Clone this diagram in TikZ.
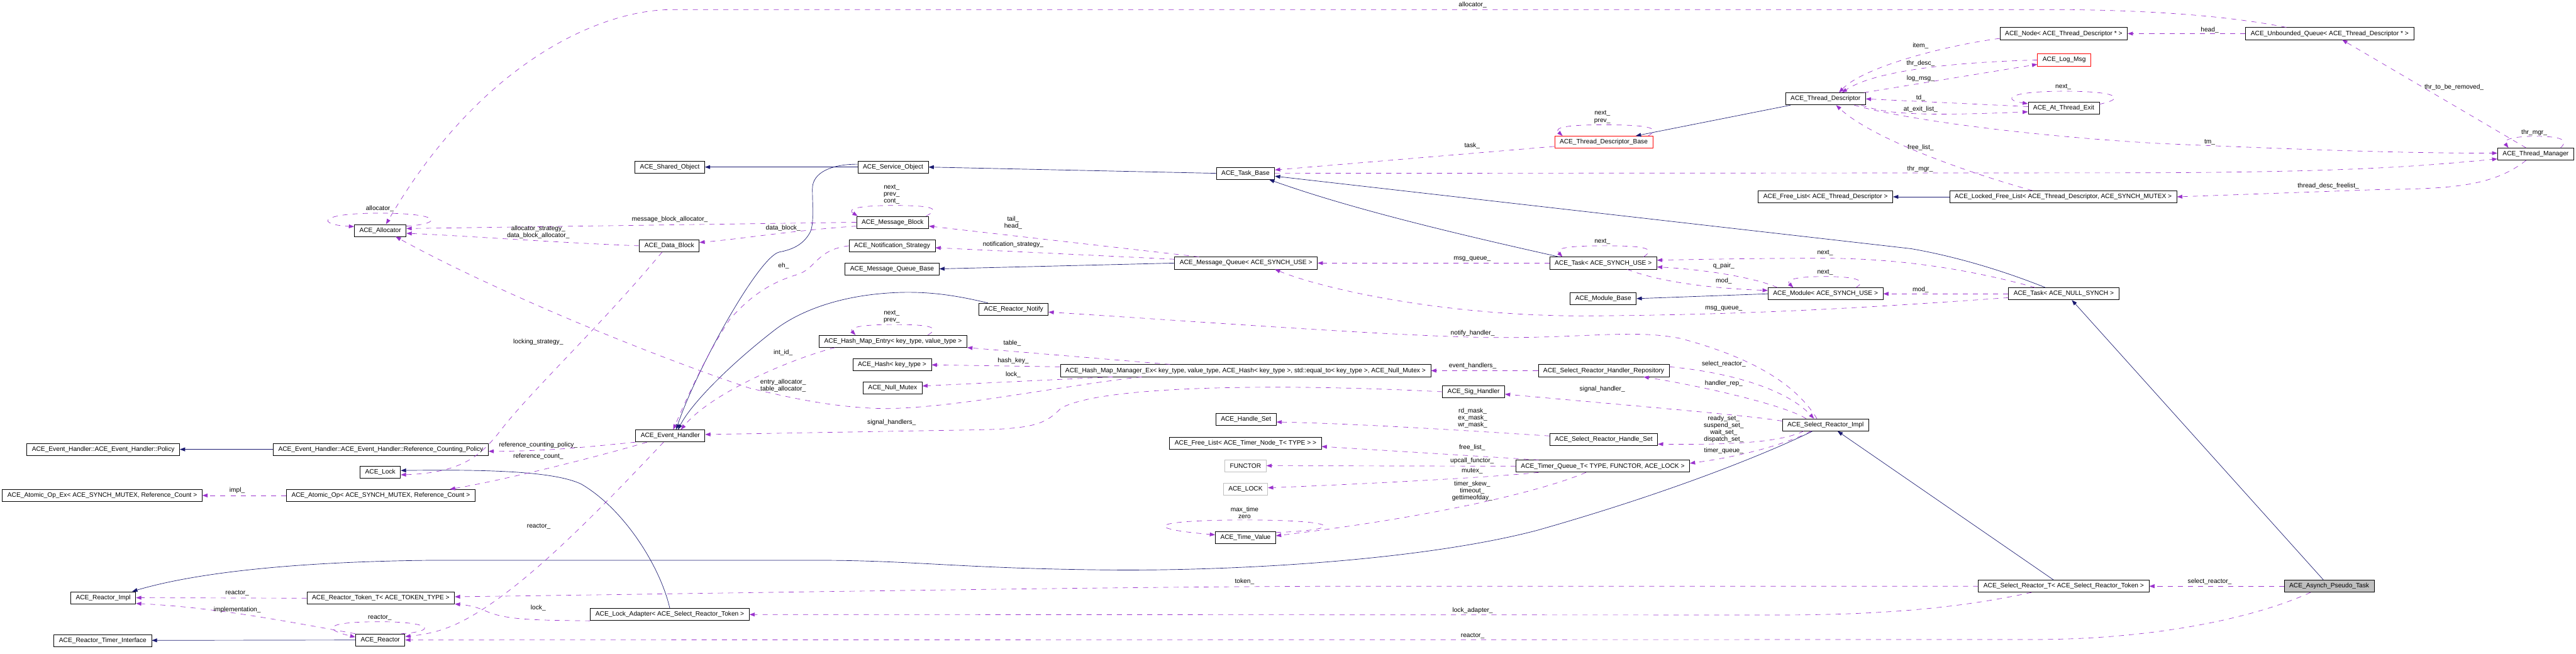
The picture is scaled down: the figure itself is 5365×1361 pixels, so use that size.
\documentclass[tikz,border=0pt]{standalone}
\usepackage{fontspec}
\setmainfont{Liberation Sans}
\usetikzlibrary{arrows.meta, calc}

\definecolor{edgeblue}{HTML}{191970}
\definecolor{edgepurple}{HTML}{9A32CD}
\definecolor{nodegray}{HTML}{BFBFBF}

\begin{document}
\begin{tikzpicture}[
    x=0.02cm, y=-0.02cm,
    every node/.style={font=\fontsize{7.6}{8.3}\selectfont},
    cls/.style={draw=black, fill=white, line width=0.6pt, inner xsep=6pt, inner ysep=0pt, minimum height=0.5cm},
    redcls/.style={cls, draw=red},
    graycls/.style={cls, draw=nodegray},
    maincls/.style={cls, fill=nodegray},
    inh/.style={draw=edgeblue, line width=0.5pt, -{Triangle[length=0.22cm, width=0.16cm]}},
    member/.style={draw=edgepurple, line width=0.5pt, dash pattern=on 6pt off 6pt, -{Triangle[length=0.22cm, width=0.16cm]}},
    elabel/.style={inner sep=0pt, align=center}
]
\useasboundingbox (0,0) rectangle (5365,1361);

% Classes
\node[cls] (alloc) at (792,480) {ACE\_Allocator};
\node[cls] (sharedobj) at (1395,348) {ACE\_Shared\_Object};
\node[cls] (svcobj) at (1860,348) {ACE\_Service\_Object};
\node[cls] (msgblock) at (1859,463) {ACE\_Message\_Block};
\node[cls] (datablock) at (1394,512) {ACE\_Data\_Block};
\node[cls] (notifstrat) at (1858,512) {ACE\_Notification\_Strategy};
\node[cls] (mqbase) at (1858,560) {ACE\_Message\_Queue\_Base};
\node[cls] (taskbase) at (2594,361) {ACE\_Task\_Base};
\node[cls] (msgqueue) at (2595,548) {ACE\_Message\_Queue< ACE\_SYNCH\_USE >};
\node[cls] (reactnotify) at (2111,644) {ACE\_Reactor\_Notify};
\node[redcls] (tdbase) at (3340,296) {ACE\_Thread\_Descriptor\_Base};
\node[cls] (tasksu) at (3339,548) {ACE\_Task< ACE\_SYNCH\_USE >};
\node[cls] (modbase) at (3339,622) {ACE\_Module\_Base};
\node[cls] (threaddesc) at (3802,206) {ACE\_Thread\_Descriptor};
\node[cls] (nodetd) at (4298,70) {ACE\_Node< ACE\_Thread\_Descriptor * >};
\node[redcls] (logmsg) at (4299,125) {ACE\_Log\_Msg};
\node[cls] (atexit) at (4298,225) {ACE\_At\_Thread\_Exit};
\node[cls] (freelisttd) at (3802,410) {ACE\_Free\_List< ACE\_Thread\_Descriptor >};
\node[cls] (lockedfl) at (4297,410) {ACE\_Locked\_Free\_List< ACE\_Thread\_Descriptor, ACE\_SYNCH\_MUTEX >};
\node[cls] (modsu) at (3802,612) {ACE\_Module< ACE\_SYNCH\_USE >};
\node[cls] (tasknull) at (4298,612) {ACE\_Task< ACE\_NULL\_SYNCH >};
\node[cls] (unbq) at (4852,70) {ACE\_Unbounded\_Queue< ACE\_Thread\_Descriptor * >};
\node[cls] (thrmgr) at (5281,321) {ACE\_Thread\_Manager};
\node[cls] (policy) at (215,936) {ACE\_Event\_Handler::ACE\_Event\_Handler::Policy};
\node[cls] (refpolicy) at (793,936) {ACE\_Event\_Handler::ACE\_Event\_Handler::Reference\_Counting\_Policy};
\node[cls] (acelock) at (792,984) {ACE\_Lock};
\node[cls] (atomicex) at (213,1032) {ACE\_Atomic\_Op\_Ex< ACE\_SYNCH\_MUTEX, Reference\_Count >};
\node[cls] (atomicop) at (793,1032) {ACE\_Atomic\_Op< ACE\_SYNCH\_MUTEX, Reference\_Count >};
\node[cls] (reactimpl) at (215,1245) {ACE\_Reactor\_Impl};
\node[cls] (timerif) at (214,1334) {ACE\_Reactor\_Timer\_Interface};
\node[cls] (reactor) at (792,1333) {ACE\_Reactor};
\node[cls] (tokent) at (793,1246) {ACE\_Reactor\_Token\_T< ACE\_TOKEN\_TYPE >};
\node[cls] (evhandler) at (1396,908) {ACE\_Event\_Handler};
\node[cls] (lockadapter) at (1395,1280) {ACE\_Lock\_Adapter< ACE\_Select\_Reactor\_Token >};
\node[cls] (hmentry) at (1860,711) {ACE\_Hash\_Map\_Entry< key\_type, value\_type >};
\node[cls] (acehash) at (1858,760) {ACE\_Hash< key\_type >};
\node[cls] (nullmutex) at (1859,808) {ACE\_Null\_Mutex};
\node[cls] (hmmgr) at (2594,772) {ACE\_Hash\_Map\_Manager\_Ex< key\_type, value\_type, ACE\_Hash< key\_type >, std::equal\_to< key\_type >, ACE\_Null\_Mutex >};
\node[cls] (handleset) at (2595,874) {ACE\_Handle\_Set};
\node[cls] (freelisttimer) at (2594,923) {ACE\_Free\_List< ACE\_Timer\_Node\_T< TYPE > >};
\node[graycls] (functor) at (2594,970) {FUNCTOR};
\node[graycls] (acelockt) at (2594,1019) {ACE\_LOCK};
\node[cls] (timevalue) at (2594,1120) {ACE\_Time\_Value};
\node[cls] (handlerrepo) at (3340,772) {ACE\_Select\_Reactor\_Handler\_Repository};
\node[cls] (sighandler) at (3069,816) {ACE\_Sig\_Handler};
\node[cls] (srhandleset) at (3340,915) {ACE\_Select\_Reactor\_Handle\_Set};
\node[cls] (timerqueue) at (3338,971) {ACE\_Timer\_Queue\_T< TYPE, FUNCTOR, ACE\_LOCK >};
\node[cls] (srimpl) at (3802,885) {ACE\_Select\_Reactor\_Impl};
\node[cls] (srt) at (4298,1221) {ACE\_Select\_Reactor\_T< ACE\_Select\_Reactor\_Token >};
\node[maincls] (asynch) at (4851,1221) {ACE\_Asynch\_Pseudo\_Task};

% Inheritance
\draw[inh] (svcobj) -- (sharedobj);
\draw[inh] (taskbase.west) -- (svcobj.east);
\draw[inh] ($(svcobj.west)+(0,-6)$) .. controls (1730,342) and (1692,360) .. (1692,393)
    .. controls (1692,430) and (1696,470) .. (1686,486)
    .. controls (1672,510) and (1650,520) .. (1623,525)
    .. controls (1580,535) and (1450,770) .. ($(evhandler.north)+(12,0)$);
\draw[inh] ($(reactnotify.north west)+(19,0)$) .. controls (1990,615) and (1940,608) .. (1880,609)
    .. controls (1750,612) and (1660,650) .. (1610,690)
    .. controls (1520,760) and (1440,840) .. ($(evhandler.north)+(16,0)$);
\draw[inh] (msgqueue.west) -- (mqbase.east);
\draw[inh] ($(tasksu.north west)+(20,0)$) .. controls (3000,480) and (2800,430) .. ($(taskbase.south east)+(-12,0)$);
\draw[inh] ($(tasknull.north)+(-38,0)$) .. controls (4150,555) and (4050,530) .. (3980,518) -- ($(taskbase.east)+(0,6)$);
\draw[inh] (modsu.west) -- (modbase.east);
\draw[inh] (lockedfl) -- (freelisttd);
\draw[inh] ($(threaddesc.south west)+(11,0)$) -- ($(tdbase.north east)+(-36,0)$);
\draw[inh] (refpolicy) -- (policy);
\draw[inh] (lockadapter.north) .. controls (1375,1180) and (1300,1060) .. (1210,1008)
    .. controls (1150,980) and (1000,978) .. ($(acelock.east)+(0,-4)$);
\draw[inh] ($(srimpl.south)+(-27,0)$) .. controls (3700,935) and (3500,1020) .. (3200,1105)
    .. controls (2950,1170) and (2550,1190) .. (2300,1187)
    .. controls (2000,1184) and (1900,1167) .. (1700,1167) -- (900,1167)
    .. controls (600,1170) and (400,1195) .. ($(reactimpl.north east)+(-8,0)$);
\draw[inh] ($(srt.north)+(-21,0)$) -- ($(srimpl.south)+(25,0)$);
\draw[inh] ($(asynch.north)+(-12,0)$) -- ($(tasknull.south)+(17,0)$);
\draw[inh] (reactor) -- (timerif);

% Allocator
\draw[member] ($(unbq.north west)+(85,0)$) .. controls (4650,35) and (4500,22) .. (4300,20) -- (1400,20)
    .. controls (1250,20) and (1000,130) .. ($(alloc.north)+(12,0)$);
\node[elabel] (l-alloc1) at (3067,10) {allocator\_};
\draw[member] ($(alloc.east)+(0,-9)$) .. controls (925,466) and (920,444) .. (790,444)
    .. controls (660,444) and (660,468) .. ($(alloc.west)+(0,-8)$);
\node[elabel] (l-alloc2) at (791,435) {allocator\_};
\draw[member] (msgblock.west) -- ($(alloc.east)+(0,-4)$);
\node[elabel] (l-mballoc) at (1395,457) {message\_block\_allocator\_};
\draw[member] (datablock.west) .. controls (1150,505) and (950,490) .. ($(alloc.east)+(0,6)$);
\node[elabel] (l-dballoc) at (1121,484) {allocator\_strategy\_\\data\_block\_allocator\_};
\draw[member] ($(hmmgr.south west)+(170,0)$) .. controls (2200,805) and (2000,848) .. (1850,851)
    .. controls (1750,851) and (1650,830) .. (1560,808)
    .. controls (1300,720) and (1000,590) .. ($(alloc.south)+(32,0)$);
\node[elabel] (l-entryalloc) at (1631,803) {entry\_allocator\_\\table\_allocator\_};

% Message block and queue
\draw[member] ($(msgblock.west)+(0,8)$) .. controls (1650,480) and (1550,497) .. ($(datablock.east)+(0,-7)$);
\node[elabel] (l-datablock) at (1631,475) {data\_block\_};
\draw[member] ($(msgblock.north east)+(-6,0)$) .. controls (1965,432) and (1930,428) .. (1860,428)
    .. controls (1790,428) and (1762,435) .. ($(msgblock.north west)+(3,0)$);
\node[elabel] (l-mbnext) at (1857,405) {next\_\\prev\_\\cont\_};
\draw[member] ($(msgqueue.north west)+(51,0)$) -- ($(msgblock.east)+(0,8)$);
\node[elabel] (l-tailhead) at (2110,464) {tail\_\\head\_};
\draw[member] ($(msgqueue.west)+(0,-8)$) -- ($(notifstrat.east)+(0,4)$);
\node[elabel] (l-notif) at (2110,509) {notification\_strategy\_};
\draw[member] (notifstrat.west) .. controls (1700,520) and (1700,560) .. (1660,572)
    .. controls (1600,590) and (1560,620) .. (1520,665)
    .. controls (1470,740) and (1430,830) .. ($(evhandler.north)+(6,0)$);
\node[elabel] (l-eh) at (1632,554) {eh\_};

% Task base and thread manager
\draw[member] ($(tdbase.west)+(0,9)$) -- ($(taskbase.east)+(0,-7)$);
\node[elabel] (l-task) at (3066,304) {task\_};
\draw[member] (taskbase.east) -- (4400,360) .. controls (4900,360) and (5050,345) .. ($(thrmgr.west)+(0,10)$);
\node[elabel] (l-thrmgr1) at (3999,352) {thr\_mgr\_};
\draw[member] ($(threaddesc.south east)+(-24,0)$) .. controls (3950,245) and (4200,282) .. (4500,299)
    .. controls (4800,312) and (5000,319) .. ($(thrmgr.west)+(0,-2)$);
\node[elabel] (l-tm) at (4602,296) {tm\_};

% Thread descriptor
\draw[member] ($(nodetd.south west)+(0,-3)$) .. controls (4050,95) and (3880,140) .. ($(threaddesc.north)+(28,0)$);
\node[elabel] (l-item) at (4000,95) {item\_};
\draw[member] (logmsg.west) .. controls (4050,130) and (3900,150) .. ($(threaddesc.north)+(34,0)$);
\node[elabel] (l-thrdesc) at (4000,132) {thr\_desc\_};
\draw[member] ($(threaddesc.north east)+(-4,0)$) -- ($(logmsg.west)+(0,9)$);
\node[elabel] (l-logmsg) at (4000,163) {log\_msg\_};
\draw[member] ($(atexit.west)+(0,-3)$) -- (threaddesc.east);
\node[elabel] (l-td) at (4000,204) {td\_};
\draw[member] ($(threaddesc.south east)+(-9,0)$) .. controls (3930,238) and (4000,242) .. ($(atexit.west)+(0,8)$);
\node[elabel] (l-atexit) at (4000,228) {at\_exit\_list\_};
\draw[member] ($(atexit.east)+(0,-8)$) .. controls (4430,205) and (4410,190) .. (4300,190)
    .. controls (4180,190) and (4170,208) .. ($(atexit.west)+(0,-9)$);
\node[elabel] (l-atnext) at (4297,181) {next\_};
\draw[member] ($(lockedfl.north west)+(173,0)$) .. controls (4100,360) and (3900,290) .. ($(threaddesc.south)+(22,0)$);
\node[elabel] (l-freelist1) at (4000,307) {free\_list\_};

% Unbounded queue and thread manager
\draw[member] (unbq.west) -- (nodetd.east);
\node[elabel] (l-head) at (4602,62) {head\_};
\draw[member] ($(thrmgr.north)+(-20,0)$) -- ($(unbq.south)+(26,0)$);
\node[elabel] (l-thrremove) at (5111,182) {thr\_to\_be\_removed\_};
\draw[member] ($(thrmgr.north east)+(-28,0)$) .. controls (5352,290) and (5330,284) .. (5280,284)
    .. controls (5230,284) and (5212,292) .. ($(thrmgr.north west)+(23,0)$);
\node[elabel] (l-thrmgr2) at (5278,276) {thr\_mgr\_};
\draw[member] ($(thrmgr.south)+(-20,0)$) .. controls (5190,390) and (5100,393) .. (4950,395) -- (lockedfl.east);
\node[elabel] (l-tdfree) at (4849,387) {thread\_desc\_freelist\_};

% Thread descriptor base
\draw[member] ($(tdbase.north east)+(-10,0)$) .. controls (3462,266) and (3430,260) .. (3340,260)
    .. controls (3260,260) and (3236,266) .. ($(tdbase.north west)+(17,0)$);
\node[elabel] (l-tdbnext) at (3337,244) {next\_\\prev\_};

% Task and module
\draw[member] ($(tasksu.north east)+(-28,0)$) .. controls (3452,516) and (3420,512) .. (3340,512)
    .. controls (3260,512) and (3238,518) .. ($(tasksu.north west)+(27,0)$);
\node[elabel] (l-tasknext) at (3337,503) {next\_};
\draw[member] (tasksu.west) -- (msgqueue.east);
\node[elabel] (l-msgq1) at (3066,539) {msg\_queue\_};
\draw[member] ($(tasknull.north west)+(56,0)$) .. controls (4100,560) and (3950,538) .. (3800,538)
    .. controls (3650,538) and (3550,540) .. ($(tasksu.east)+(0,-6)$);
\node[elabel] (l-tasknext2) at (3801,527) {next\_};
\draw[member] ($(modsu.north west)+(20,0)$) .. controls (3660,580) and (3560,562) .. ($(tasksu.east)+(0,8)$);
\node[elabel] (l-qpair) at (3590,554) {q\_pair\_};
\draw[member] ($(tasksu.south)+(50,0)$) .. controls (3450,585) and (3550,600) .. ($(modsu.west)+(0,-7)$);
\node[elabel] (l-mod1) at (3590,585) {mod\_};
\draw[member] ($(modsu.north east)+(-57,0)$) .. controls (3892,583) and (3860,576) .. (3800,576)
    .. controls (3740,576) and (3718,583) .. ($(modsu.north west)+(53,0)$);
\node[elabel] (l-modnext) at (3801,567) {next\_};
\draw[member] (tasknull.west) -- (modsu.east);
\node[elabel] (l-mod2) at (4000,603) {mod\_};
\draw[member] ($(tasknull.west)+(0,8)$) .. controls (3900,640) and (3650,656) .. (3300,658)
    .. controls (3000,658) and (2750,600) .. ($(msgqueue.south east)+(-89,0)$);
\node[elabel] (l-msgq2) at (3590,643) {msg\_queue\_};

% Select reactor implementation
\draw[member] ($(srimpl.north)+(-18,0)$) .. controls (3740,800) and (3650,745) .. (3500,705)
    .. controls (3400,685) and (3300,705) .. (3100,703)
    .. controls (2900,700) and (2500,670) .. ($(reactnotify.east)+(0,6)$);
\node[elabel] (l-notify) at (3067,694) {notify\_handler\_};
\draw[member] ($(handlerrepo.east)+(0,-8)$) .. controls (3600,775) and (3720,810) .. ($(srimpl.north)+(-24,0)$);
\node[elabel] (l-selreact1) at (3590,758) {select\_reactor\_};
\draw[member] ($(srimpl.north west)+(50,0)$) .. controls (3720,845) and (3550,805) .. ($(handlerrepo.south)+(83,0)$);
\node[elabel] (l-handlerrep) at (3590,799) {handler\_rep\_};
\draw[member] ($(srimpl.west)+(0,-8)$) .. controls (3650,866) and (3400,845) .. ($(sighandler.east)+(0,5)$);
\node[elabel] (l-sighandler) at (3337,811) {signal\_handler\_};
\draw[member] ($(srimpl.south west)+(45,0)$) .. controls (3710,920) and (3620,927) .. ($(srhandleset.east)+(0,10)$);
\node[elabel] (l-sets) at (3590,894) {ready\_set\_\\suspend\_set\_\\wait\_set\_\\dispatch\_set\_};
\draw[member] ($(srimpl.south)+(-30,0)$) .. controls (3720,925) and (3630,950) .. ($(timerqueue.east)+(0,-6)$);
\node[elabel] (l-timerq) at (3590,939) {timer\_queue\_};

% Handle sets and timer queue
\draw[member] ($(srhandleset.west)+(0,-7)$) .. controls (3100,900) and (2850,883) .. ($(handleset.east)+(0,5)$);
\node[elabel] (l-masks) at (3067,871) {rd\_mask\_\\ex\_mask\_\\wr\_mask\_};
\draw[member] ($(timerqueue.north west)+(48,0)$) -- ($(freelisttimer.east)+(0,7)$);
\node[elabel] (l-freelist2) at (3066,932) {free\_list\_};
\draw[member] (timerqueue.west) -- (functor.east);
\node[elabel] (l-upcall) at (3066,960) {upcall\_functor\_};
\draw[member] ($(timerqueue.south west)+(48,0)$) .. controls (3100,995) and (2800,1010) .. ($(acelockt.east)+(0,-3)$);
\node[elabel] (l-mutex) at (3066,981) {mutex\_};
\draw[member] ($(timerqueue.south)+(-35,0)$) .. controls (3220,1020) and (3000,1075) .. ($(timevalue.east)+(0,-4)$);
\node[elabel] (l-timeout) at (3066,1023) {timer\_skew\_\\timeout\_\\gettimeofday\_};
\draw[member] ($(timevalue.north east)+(0,2)$) .. controls (2790,1105) and (2810,1084) .. (2600,1083)
    .. controls (2400,1083) and (2370,1100) .. ($(timevalue.west)+(0,-6)$);
\node[elabel] (l-maxtime) at (2592,1068) {max\_time\\zero};

% Hash map
\draw[member] (handlerrepo.west) -- (hmmgr.east);
\node[elabel] (l-evhandlers) at (3067,762) {event\_handlers\_};
\draw[member] ($(hmmgr.north west)+(229,0)$) -- ($(hmentry.east)+(0,13)$);
\node[elabel] (l-table) at (2108,715) {table\_};
\draw[member] ($(hmmgr.west)+(0,-8)$) -- (acehash.east);
\node[elabel] (l-hashkey) at (2110,752) {hash\_key\_};
\draw[member] ($(hmmgr.south west)+(110,0)$) -- ($(nullmutex.east)+(0,-4)$);
\node[elabel] (l-lock1) at (2110,781) {lock\_};
\draw[member] (sighandler.west) .. controls (2700,800) and (2300,800) .. (2210,850)
    .. controls (2180,880) and (2160,892) .. (2050,895) -- ($(evhandler.east)+(0,-3)$);
\node[elabel] (l-sighandlers) at (1857,880) {signal\_handlers\_};
\draw[member] ($(hmentry.south west)+(33,0)$) .. controls (1640,750) and (1480,820) .. ($(evhandler.north)+(22,0)$);
\node[elabel] (l-intid) at (1631,734) {int\_id\_};
\draw[member] ($(hmentry.north east)+(-82,0)$) .. controls (1962,680) and (1930,676) .. (1860,676)
    .. controls (1790,676) and (1768,683) .. ($(hmentry.north west)+(76,0)$);
\node[elabel] (l-hmnext) at (1857,660) {next\_\\prev\_};

% Event handler
\draw[member] (evhandler.south west) .. controls (1250,928) and (1150,940) .. ($(refpolicy.east)+(0,4)$);
\node[elabel] (l-refpolicy) at (1121,927) {reference\_counting\_policy\_};
\draw[member] ($(evhandler.south west)+(24,0)$) .. controls (1250,950) and (1050,1000) .. ($(atomicop.north east)+(-53,0)$);
\node[elabel] (l-refcount) at (1121,951) {reference\_count\_};
\draw[member] (atomicop.west) -- (atomicex.east);
\node[elabel] (l-impl) at (494,1022) {impl\_};
\draw[member] ($(evhandler.south)+(-14,0)$) .. controls (1250,1060) and (1080,1240) .. (950,1300)
    .. controls (910,1318) and (880,1322) .. ($(reactor.east)+(0,-7)$);
\node[elabel] (l-reactor1) at (1122,1097) {reactor\_};
\draw[member] ($(datablock.south)+(-15,0)$) .. controls (1250,680) and (1100,820) .. (1040,900)
    .. controls (1000,950) and (960,985) .. ($(acelock.east)+(0,5)$);
\node[elabel] (l-locking) at (1121,713) {locking\_strategy\_};

% Reactor
\draw[member] ($(reactor.north east)+(-8,0)$) .. controls (912,1315) and (900,1295) .. (790,1295)
    .. controls (680,1295) and (668,1310) .. ($(reactor.west)+(0,-6)$);
\node[elabel] (l-reactor2) at (791,1287) {reactor\_};
\draw[member] (reactor.north west) .. controls (600,1295) and (450,1265) .. ($(reactimpl.east)+(0,12)$);
\node[elabel] (l-impl2) at (494,1270) {implementation\_};
\draw[member] (tokent.west) -- (reactimpl.east);
\node[elabel] (l-reactor3) at (494,1236) {reactor\_};

% Select reactor template
\draw[member] (srt.west) -- (2800,1221) .. controls (2300,1222) and (1500,1236) .. ($(tokent.east)+(0,-3)$);
\node[elabel] (l-token) at (2592,1211) {token\_};
\draw[member] ($(srt.south)+(-67,0)$) .. controls (4100,1262) and (3950,1281) .. (3700,1281) -- (lockadapter.east);
\node[elabel] (l-lockadapter) at (3067,1272) {lock\_adapter\_};
\draw[member] (lockadapter.south west) .. controls (1100,1292) and (1050,1290) .. (1010,1272)
    .. controls (990,1263) and (970,1260) .. ($(tokent.east)+(0,12)$);
\node[elabel] (l-lock2) at (1121,1266) {lock\_};
\draw[member] ($(asynch.south)+(-39,0)$) .. controls (4700,1285) and (4500,1330) .. (4250,1332) -- (reactor.east);
\node[elabel] (l-reactor4) at (3067,1324) {reactor\_};
\draw[member] (asynch.west) -- (srt.east);
\node[elabel] (l-selreact2) at (4602,1211) {select\_reactor\_};

\end{tikzpicture}
\end{document}
